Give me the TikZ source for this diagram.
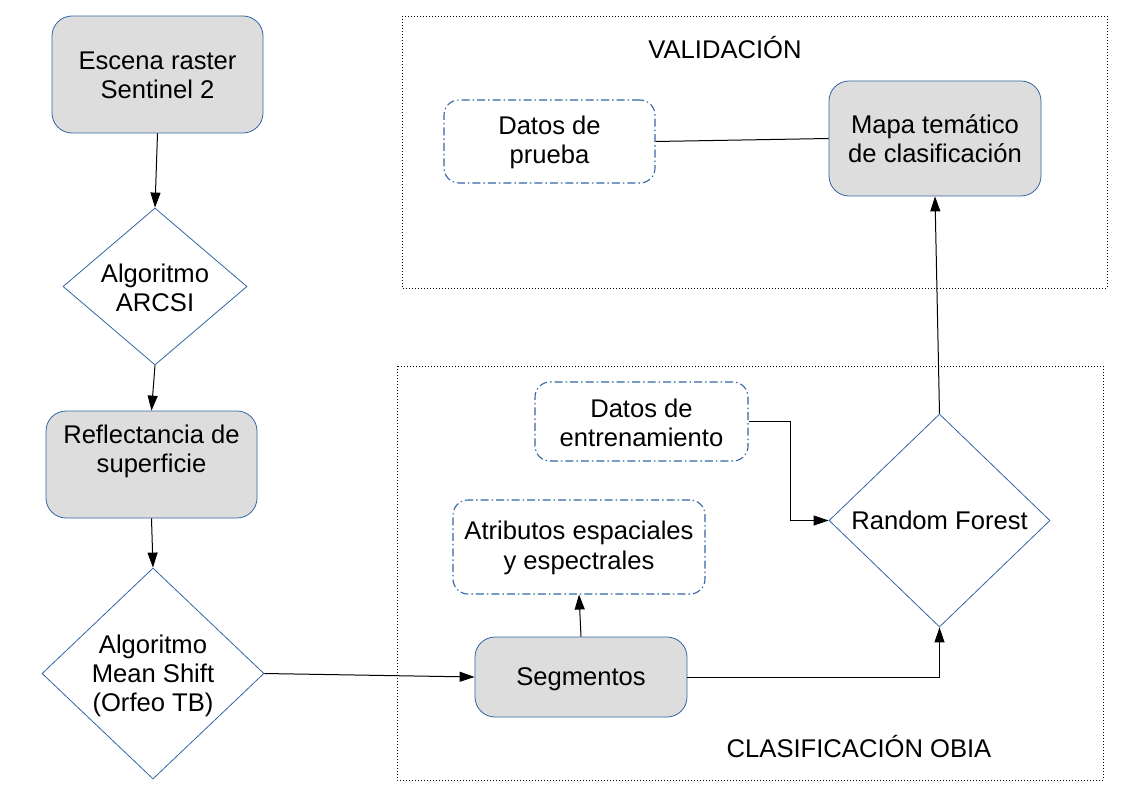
\documentclass[tikz,border=0pt]{standalone}
\usepackage{fontspec}
\setmainfont{Liberation Sans}
\usetikzlibrary{shapes.geometric,arrows.meta}
\definecolor{nodeblue}{HTML}{3465A4}
\definecolor{nodegray}{HTML}{DDDDDD}
\tikzset{
  txt/.style={font=\fontsize{25.6}{29.3}\selectfont, align=center, text=black},
  graybox/.style={draw=nodeblue, line width=0.8pt, fill=nodegray, rounded corners=20pt, inner sep=0pt},
  ddbox/.style={draw=nodeblue, line width=1.1pt, rounded corners=15pt, inner sep=0pt,
    dash pattern=on 8pt off 3pt on 1.5pt off 3pt},
  dia/.style={draw=nodeblue, line width=0.8pt, shape=diamond, inner sep=0pt},
  frame/.style={draw=black, line width=0.8pt, dash pattern=on 1pt off 2pt},
  arr/.style={draw=black, line width=1pt, -{Triangle[length=15pt,width=10pt]}},
  ln/.style={draw=black, line width=1pt},
}
\begin{document}
\begin{tikzpicture}[x=1pt,y=-1pt]
\useasboundingbox (0,0) rectangle (1123,794);
% frames
\draw[frame] (402,16) rectangle (1107,288);
\draw[frame] (397,366) rectangle (1103,780);
\node[txt] (lval) at (725,48) {VALIDACIÓN};
\node[txt] (lobia) at (859,747) {CLASIFICACIÓN OBIA};
% left column
\node[graybox, minimum width=211pt, minimum height=117pt] (escena) at (157.5,74.5) {};
\node[txt] (escenat) at (157.5,75) {Escena raster\\Sentinel 2};
\node[dia, minimum width=184pt, minimum height=157pt] (d1) at (155,286.5) {};
\node[txt] (d1t) at (155,287.5) {Algoritmo\\ARCSI};
\node[graybox, minimum width=211pt, minimum height=107pt] (refl) at (151.5,464.5) {};
\node[txt] (reflt) at (151.5,451.5) {Reflectancia de\\superficie};
\node[dia, minimum width=222pt, minimum height=211pt] (d2) at (153,673.5) {};
\node[txt] (d2t) at (153,676) {Algoritmo\\Mean Shift\\(Orfeo TB)};
% OBIA
\node[graybox, minimum width=212pt, minimum height=80pt] (seg) at (581,677) {};
\node[txt] (segt) at (581,679.5) {Segmentos};
\node[ddbox, minimum width=252pt, minimum height=94pt] (atr) at (579,547) {};
\node[txt] (atrt) at (579,548) {Atributos espaciales\\y espectrales};
\node[ddbox, minimum width=213pt, minimum height=79pt] (ent) at (641.5,421.5) {};
\node[txt] (entt) at (641.5,423) {Datos de\\entrenamiento};
\node[dia, minimum width=221pt, minimum height=213pt] (rf) at (939.5,520.5) {};
\node[txt] (rft) at (rf) {Random Forest};
% validacion
\node[graybox, minimum width=212pt, minimum height=115pt] (mapa) at (935,138.5) {};
\node[txt] (mapat) at (935,139) {Mapa temático\\de clasificación};
\node[ddbox, minimum width=211pt, minimum height=83pt] (prueba) at (549.5,141.5) {};
\node[txt] (pruebat) at (549.5,142.5) {Datos de\\prueba};
% connectors
\draw[arr] (escena.south) -- (d1.north);
\draw[arr] (d1.south) -- (refl.north);
\draw[arr] (refl.south) -- (d2.north);
\draw[arr] (d2.east) -- (seg.west);
\draw[arr] (seg.north) -- (atr.south);
\draw[arr] (seg.east) -| (rf.south);
\draw[arr] (ent.east) -- (790,421.5) |- (rf.west);
\draw[arr] (rf.north) -- (mapa.south);
\draw[ln] (prueba.east) -- (mapa.west);
\end{tikzpicture}
\end{document}
